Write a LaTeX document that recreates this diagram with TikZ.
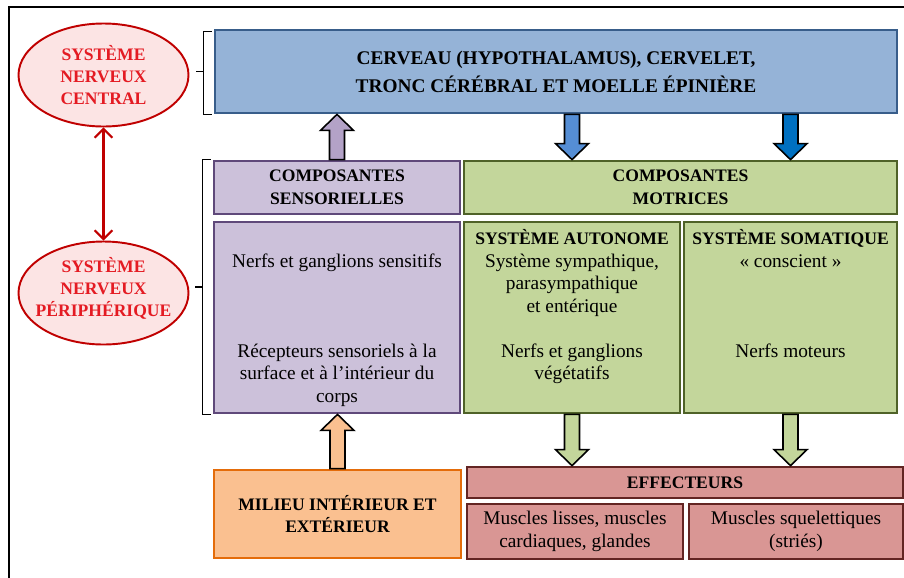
\documentclass[tikz,border=0pt]{standalone}
\usepackage{fontspec}
\setmainfont{Liberation Serif}
\usetikzlibrary{arrows.meta,shapes.geometric,calc,shadows}

\definecolor{cnsfill}{HTML}{95B3D7}
\definecolor{cnsdraw}{HTML}{385D8A}
\definecolor{sensfill}{HTML}{CCC1DA}
\definecolor{sensdraw}{HTML}{5F497A}
\definecolor{sensarrow}{HTML}{B3A2C7}
\definecolor{motfill}{HTML}{C3D69B}
\definecolor{motdraw}{HTML}{4F6228}
\definecolor{milfill}{HTML}{FAC090}
\definecolor{mildraw}{HTML}{E46C0A}
\definecolor{efffill}{HTML}{D99694}
\definecolor{effdraw}{HTML}{632523}
\definecolor{snfill}{HTML}{FCE4E4}
\definecolor{sndraw}{HTML}{C00000}
\definecolor{sntext}{HTML}{E41B23}
\definecolor{blueone}{HTML}{558ED5}
\definecolor{bluetwo}{HTML}{0070C0}

\newcommand\fatarrow[3]{%
  \draw[fat, fill=#3] let \p1=(#1), \p2=(#2), \p3=($(#2)!0.32cm!(#1)$) in
    (\x1-0.15cm,\y1) -- (\x1-0.15cm,\y3) -- (\x1-0.33cm,\y3) -- (\x1,\y2)
    -- (\x1+0.33cm,\y3) -- (\x1+0.15cm,\y3) -- (\x1+0.15cm,\y1) -- cycle;}

\begin{document}
\begin{tikzpicture}

\tikzstyle{box} = [rectangle, line width=1.6pt, inner sep=2pt, align=center, drop shadow={opacity=0.25, shadow xshift=0.8pt, shadow yshift=-0.8pt}]
\tikzstyle{title} = [font=\fontsize{10}{12.8}\selectfont\bfseries]
\tikzstyle{plain} = [font=\fontsize{11}{13}\selectfont]
\tikzstyle{body} = [font=\fontsize{11}{12.8}\selectfont, align=center, anchor=north, inner sep=0pt]
\tikzstyle{brk} = [line width=0.9pt]
\tikzstyle{fat} = [line width=0.9pt, draw=black]
\tikzstyle{sn} = [ellipse, draw=sndraw, fill=snfill, line width=1.1pt, minimum width=3.4cm, minimum height=2.06cm]
\tikzstyle{sntxt} = [text=sntext, font=\fontsize{10}{12.5}\selectfont\bfseries, align=center]

\clip (0,0) rectangle (18.08,-11.54);
\draw[line width=1pt] (0.18,-0.14) rectangle (18.6,-12);

\node[sn] (snc) at (2.07,-1.5) {};
\node[sntxt] (snc-t) at (snc) {SYSTÈME\\NERVEUX\\CENTRAL};
\node[sn] (snp) at (2.07,-5.86) {};
\node[sntxt] (snp-t) at (2.07,-5.76) {SYSTÈME\\NERVEUX\\PÉRIPHÉRIQUE};

\draw[sndraw, line width=1.2pt, {Straight Barb[length=5pt,width=10pt]}-{Straight Barb[length=5pt,width=10pt]}] (snc) -- (snp);

\node[box, fill=cnsfill, draw=cnsdraw, minimum width=13.64cm, minimum height=1.66cm, font=\fontsize{11}{16}\selectfont\bfseries] (cns) at (11.12,-1.43) {CERVEAU (HYPOTHALAMUS), CERVELET,\\TRONC CÉRÉBRAL ET MOELLE ÉPINIÈRE};

\node[box, title, fill=sensfill, draw=sensdraw, minimum width=4.92cm, minimum height=1.06cm] (sens) at (6.74,-3.75) {COMPOSANTES\\SENSORIELLES};
\node[box, title, fill=motfill, draw=motdraw, minimum width=8.66cm, minimum height=1.06cm] (mot) at (13.61,-3.75) {COMPOSANTES\\MOTRICES};

\node[box, fill=sensfill, draw=sensdraw, minimum width=4.92cm, minimum height=3.82cm] (sens2) at (6.74,-6.35) {};
\node[box, fill=motfill, draw=motdraw, minimum width=4.32cm, minimum height=3.82cm] (auto) at (11.44,-6.35) {};
\node[box, fill=motfill, draw=motdraw, minimum width=4.26cm, minimum height=3.82cm] (som) at (15.81,-6.35) {};

\node[body] (sens2-t) at ([yshift=-0.16cm]sens2.north) {\strut\\Nerfs et ganglions sensitifs\\[38.4pt]Récepteurs sensoriels à la\\surface et à l’intérieur du\\corps};
\node[body] (auto-t) at ([yshift=-0.16cm]auto.north) {\strut{\fontsize{10}{12.8}\selectfont\bfseries SYSTÈME AUTONOME}\\Système sympathique,\\parasympathique\\et entérique\\[12.8pt]Nerfs et ganglions\\végétatifs};
\node[body] (som-t) at ([yshift=-0.16cm]som.north) {\strut{\fontsize{10}{12.8}\selectfont\bfseries SYSTÈME SOMATIQUE}\\«~conscient~»\\[38.4pt]Nerfs moteurs};

\node[box, title, fill=milfill, draw=mildraw, minimum width=4.94cm, minimum height=1.76cm, font=\fontsize{10}{13}\selectfont\bfseries] (mil) at (6.75,-10.28) {MILIEU INTÉRIEUR ET\\EXTÉRIEUR};

\node[box, title, fill=efffill, draw=effdraw, minimum width=8.72cm, minimum height=0.62cm] (eff) at (13.70,-9.65) {EFFECTEURS};
\node[box, plain, fill=efffill, draw=effdraw, minimum width=4.32cm, minimum height=1.1cm] (eff1) at (11.50,-10.63) {Muscles lisses, muscles\\cardiaques, glandes};
\node[box, plain, fill=efffill, draw=effdraw, minimum width=4.28cm, minimum height=1.1cm] (eff2) at (15.92,-10.63) {Muscles squelettiques\\(striés)};

\coordinate (sens-up) at (cns.south -| sens.north);
\coordinate (auto-cns) at (cns.south -| auto.north);
\coordinate (auto-in) at (mot.north -| auto.north);
\coordinate (som-cns) at (cns.south -| som.north);
\coordinate (som-in) at (mot.north -| som.north);
\coordinate (auto-out) at (eff.north -| auto.south);
\coordinate (som-out) at (eff.north -| som.south);

\fatarrow{sens.north}{sens-up}{sensarrow}
\fatarrow{auto-cns}{auto-in}{blueone}
\fatarrow{som-cns}{som-in}{bluetwo}
\fatarrow{mil.north}{sens2.south}{milfill}
\fatarrow{auto.south}{auto-out}{motfill}
\fatarrow{som.south}{som-out}{motfill}

\coordinate (cns-mid) at ([xshift=-0.2cm]cns.west);
\draw[brk] ([shift={(-0.04cm,-0.06cm)}]cns.north west) -| (cns-mid) |- ([xshift=-0.04cm]cns.south west);
\draw[brk] (cns-mid) -- ++(-0.16,0);

\coordinate (pn-mid) at ($([xshift=-0.2cm]sens.north west)!0.5!([xshift=-0.2cm]sens2.south west)$);
\draw[brk] ([xshift=-0.04cm]sens.north west) -| (pn-mid) |- ([xshift=-0.04cm]sens2.south west);
\draw[brk] (pn-mid) -- ++(-0.16,0);

\end{tikzpicture}
\end{document}
